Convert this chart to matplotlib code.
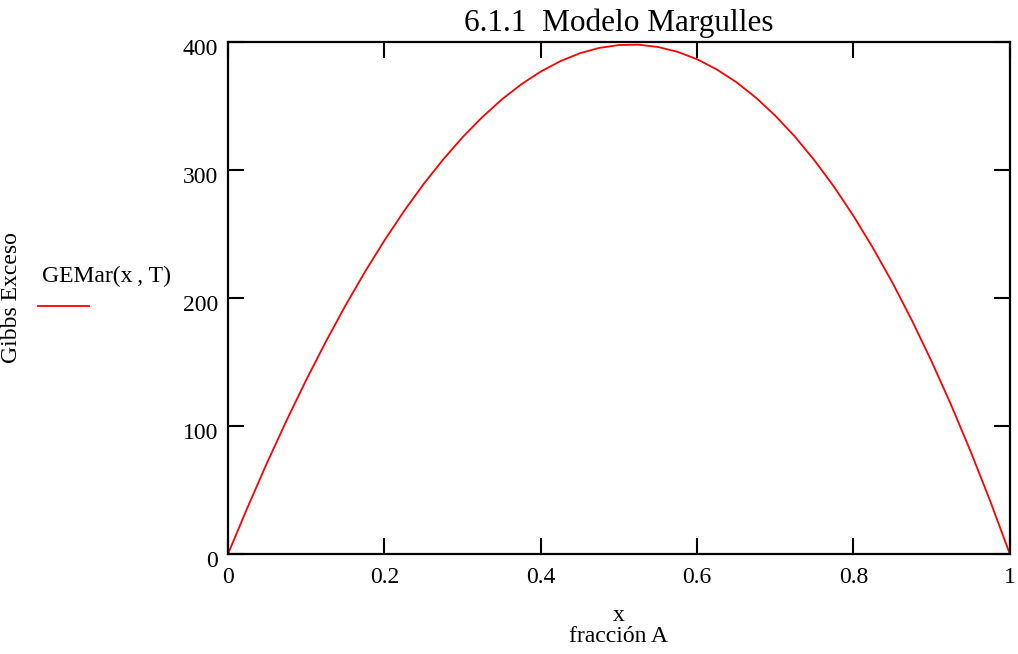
import numpy as np
import matplotlib
matplotlib.use("Agg")
import matplotlib.pyplot as plt
import matplotlib.transforms as mtransforms
from matplotlib.lines import Line2D

plt.rcParams['font.family'] = ['Liberation Serif', 'DejaVu Serif']

# exceso de Gibbs (Margulles) contra fraccion molar de A
x_frac = [0.000, 0.025, 0.050, 0.075, 0.100, 0.125, 0.150, 0.175, 0.200, 0.225,
          0.250, 0.275, 0.300, 0.325, 0.350, 0.375, 0.400, 0.425, 0.450, 0.475,
          0.500, 0.525, 0.550, 0.575, 0.600, 0.625, 0.650, 0.675, 0.700, 0.725,
          0.750, 0.775, 0.800, 0.825, 0.850, 0.875, 0.900, 0.925, 0.950, 0.975,
          1.000]
ge_mar = [0.0, 36.4, 71.3, 104.4, 135.9, 165.7, 193.8, 220.2, 244.8, 267.7,
          288.8, 308.0, 325.5, 341.1, 354.9, 366.8, 376.8, 384.9, 391.1, 395.3,
          397.5, 397.8, 396.0, 392.2, 386.4, 378.5, 368.6, 356.5, 342.3, 326.0,
          307.5, 286.9, 264.0, 238.9, 211.7, 182.1, 150.3, 116.2, 79.8, 41.1,
          0.0]
x_ticks = [0, 0.2, 0.4, 0.6, 0.8, 1]
x_ticklabels = ["0", "0.2", "0.4", "0.6", "0.8", "1"]
y_ticks = [0, 100, 200, 300, 400]

fig = plt.figure(figsize=(10.18, 6.54), dpi=100)
ax = fig.add_axes([0.224, 0.153, 0.768, 0.783])

ax.plot(x_frac, ge_mar, color='red', lw=1.3)

ax.set_xlim(0, 1)
ax.set_ylim(0, 400)
ax.set_xticks(x_ticks)
ax.set_xticklabels(x_ticklabels)
ax.set_yticks(y_ticks)
ax.tick_params(direction='in', top=True, right=True, length=11.5, width=1.5,
               labelsize=17, colors='black')
ax.tick_params(axis='x', pad=9.5)
ax.tick_params(axis='y', pad=7)
for sp in ax.spines.values():
    sp.set_linewidth(1.6)

# etiquetas del eje y un poco por debajo de cada marca
shift = mtransforms.ScaledTranslation(0, -4 / 72, fig.dpi_scale_trans)
for lbl in ax.get_yticklabels():
    lbl.set_transform(lbl.get_transform() + shift)

ax.set_title("6.1.1  Modelo Margulles", fontsize=22.5, pad=8)
ax.set_xlabel("x\nfracción A", fontsize=17, linespacing=1.0, labelpad=12)
ax.set_ylabel("Gibbs Exceso", fontsize=17)
ax.yaxis.set_label_coords(-0.263, 0.5)

# leyenda a la izquierda: texto arriba, muestra de linea abajo
fig.text(0.041, 0.568, "GEMar(x\u2009, T)", fontsize=17, ha='left', va='baseline')
fig.add_artist(Line2D([0.037, 0.087], [0.532, 0.532], color='red', lw=1.3,
                      transform=fig.transFigure))

fig.savefig("out.png", dpi=100)
